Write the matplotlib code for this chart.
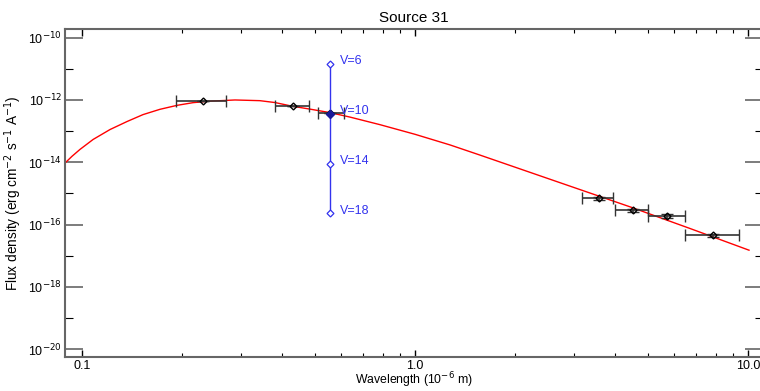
import matplotlib
matplotlib.use("Agg")
import matplotlib.pyplot as plt
from matplotlib.ticker import FixedLocator, FixedFormatter, NullFormatter
import numpy as np

plt.rcParams['font.family'] = ['Liberation Sans', 'DejaVu Sans']

# photometry (wavelength in micron, flux in erg/cm2/s/A)
wave = [0.231, 0.43, 0.555, 3.57, 4.5, 5.73, 7.87]
wave_lo = [0.191, 0.38, 0.51, 3.18, 4.0, 5.0, 6.47]
wave_hi = [0.271, 0.48, 0.612, 3.93, 5.0, 6.47, 9.4]
flux = [9.0e-13, 6.25e-13, 3.93e-13, 7.0e-16, 2.9e-16, 1.87e-16, 4.5e-17]
flux_err = [0, 0, 0, 0.9e-16, 0.35e-16, 0.25e-16, 0.6e-17]

# V magnitude reference scale
v_wave = 0.555
v_mags = [6, 10, 14, 18]
v_flux = [1.44e-11, 3.63e-13, 9.1e-15, 2.29e-16]

# fitted model curve
fit_wave = [0.0889, 0.0933, 0.0986, 0.108, 0.1214, 0.1365, 0.1525, 0.1714, 0.1929, 0.2155,
            0.2423, 0.288, 0.342, 0.380, 0.427, 0.484, 0.5555, 0.638, 0.785, 1.0, 1.274,
            1.567, 2.543, 4.42, 6.70, 10.07]
fit_flux = [9.4e-15, 1.55e-14, 2.58e-14, 5.40e-14, 1.125e-13, 2.03e-13, 3.39e-13, 5.01e-13, 6.72e-13, 8.2e-13,
            9.16e-13, 1.0e-12, 9.5e-13, 8.26e-13, 6.33e-13, 5.08e-13, 3.93e-13, 2.82e-13, 1.61e-13, 7.9e-14, 3.6e-14,
            1.70e-14, 2.85e-15, 3.71e-16, 7.45e-17, 1.5e-17]

fig = plt.figure(figsize=(7.6, 3.91), dpi=100)
ax = fig.add_axes([0.0855, 0.0865, 0.9184, 0.8393])

ax.plot(fit_wave, fit_flux, color='red', lw=1.0, zorder=2)

xerr = [np.array(wave) - np.array(wave_lo), np.array(wave_hi) - np.array(wave)]
ax.errorbar(wave, flux, xerr=xerr, yerr=flux_err, fmt='D', ms=3.5, mfc='none', mec='black',
            mew=1.0, ecolor='#333333', elinewidth=1.2, capsize=4, capthick=1.0, zorder=3)

blue = '#3333ee'
ax.plot([v_wave] * len(v_flux), v_flux, color=blue, lw=1.0, marker='D', ms=3.5,
        mfc='white', mec=blue, mew=0.9, zorder=4)
ax.plot([v_wave], [v_flux[1]], marker='D', ms=4, color='#1a1a99', zorder=5)
for m, f in zip(v_mags, v_flux):
    ax.annotate('V=%d' % m, (v_wave, f), xytext=(7, 2), textcoords='offset points',
                color=blue, fontsize=9, va='center', ha='left')

ax.set_xscale('log')
ax.set_yscale('log')
ax.set_xlim(0.0889, 11.09)
ax.set_ylim(5.5e-21, 1.9e-10)

ax.xaxis.set_major_locator(FixedLocator([0.1, 1.0, 10.0]))
ax.xaxis.set_major_formatter(FixedFormatter(['0.1', '1.0', '10.0']))
xminor = [k * 0.1 for k in range(2, 10)] + [float(k) for k in range(2, 10)]
ax.xaxis.set_minor_locator(FixedLocator(xminor))
ax.xaxis.set_minor_formatter(NullFormatter())

ymaj = [10.0 ** e for e in range(-20, -9, 2)]
ax.yaxis.set_major_locator(FixedLocator(ymaj))
ax.yaxis.set_major_formatter(FixedFormatter(['10$^{%d}$' % e for e in range(-20, -9, 2)]))
ax.yaxis.set_minor_locator(FixedLocator([10.0 ** e for e in range(-21, -9, 2)]))
ax.yaxis.set_minor_formatter(NullFormatter())

ax.tick_params(axis='x', which='major', direction='in', length=5, width=1, top=True, labelsize=9, pad=2)
ax.tick_params(axis='x', which='minor', direction='in', length=3, width=0.8, top=True)
ax.tick_params(axis='y', which='major', direction='in', length=13, width=1.2, right=True,
               labelsize=9, color='#666666', pad=2)
ax.tick_params(axis='y', which='minor', direction='in', length=6, width=0.8, right=True)

for s in ax.spines.values():
    s.set_color('#666666')
    s.set_linewidth(1.5)

ax.set_title('Source 31', fontsize=11, pad=5)
ax.set_xlabel('Wavelength (10$^{-6}$ m)', fontsize=8.8, labelpad=-1)
ax.set_ylabel('Flux density (erg cm$^{-2}$ s$^{-1}$ A$^{-1}$)', fontsize=9.8, labelpad=3)

fig.savefig('out.png', dpi=100)
